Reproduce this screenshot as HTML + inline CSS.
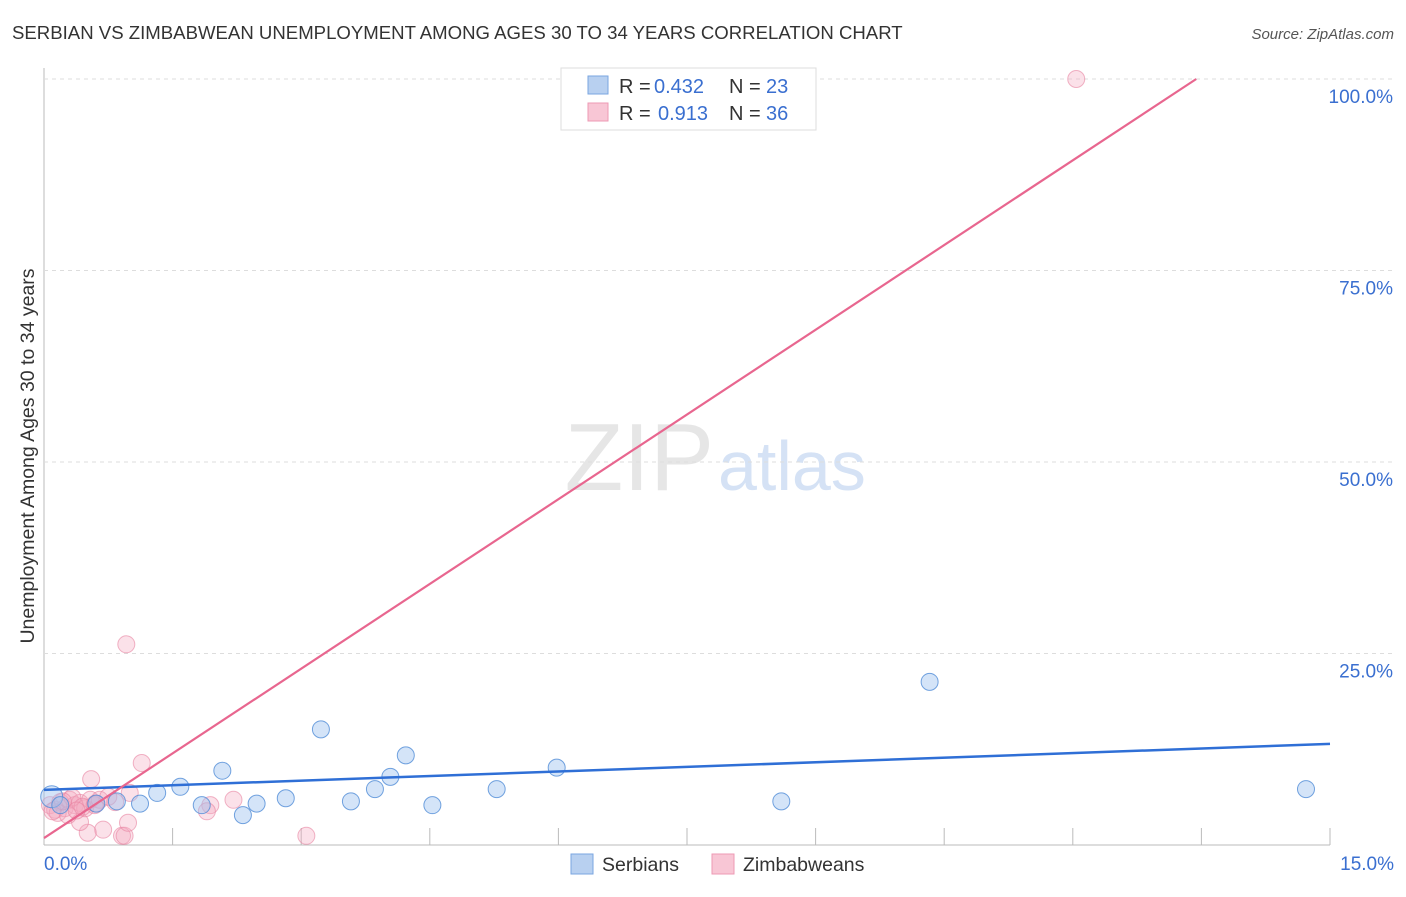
<!DOCTYPE html>
<html><head><meta charset="utf-8"><style>
body{margin:0;background:#fff;font-family:"Liberation Sans",sans-serif;}
svg text{font-family:"Liberation Sans",sans-serif;}
</style></head><body>
<svg id="c" width="1406" height="892" xmlns="http://www.w3.org/2000/svg">
<text x="12" y="39" font-size="18.6" fill="#333">SERBIAN VS ZIMBABWEAN UNEMPLOYMENT AMONG AGES 30 TO 34 YEARS CORRELATION CHART</text>
<text x="1394" y="39" font-size="15" fill="#555" text-anchor="end" font-style="italic">Source: ZipAtlas.com</text>
<text x="34" y="456" font-size="19.5" fill="#333" text-anchor="middle" transform="rotate(-90 34 456)">Unemployment Among Ages 30 to 34 years</text>
<text x="714" y="490" font-size="96" fill="#e6e6e6" text-anchor="end" font-family="Liberation Serif">ZIP</text>
<text x="718" y="490" font-size="70" fill="#d5e2f5">atlas</text>
<g id="grid"></g><g id="marks"></g>
<g>
<rect x="561" y="68" width="255" height="62" fill="#fff" stroke="#ddd"/>
<rect x="588" y="76" width="20" height="18" fill="#b8d0f0" stroke="#7aa6e0"/>
<text x="619" y="93" font-size="20" fill="#333">R = </text><text x="654" y="93" font-size="20" fill="#3a6fd0">0.432</text>
<text x="729" y="93" font-size="20" fill="#333">N = </text><text x="766" y="93" font-size="20" fill="#3a6fd0">23</text>
<rect x="588" y="103" width="20" height="18" fill="#f8c6d5" stroke="#ee9ab4"/>
<text x="619" y="120" font-size="20" fill="#333">R = </text><text x="658" y="120" font-size="20" fill="#3a6fd0">0.913</text>
<text x="729" y="120" font-size="20" fill="#333">N = </text><text x="766" y="120" font-size="20" fill="#3a6fd0">36</text>
</g>
<g>
<rect x="571" y="854" width="22" height="20" fill="#b8d0f0" stroke="#7aa6e0"/>
<text x="602" y="871" font-size="19.5" fill="#333">Serbians</text>
<rect x="712" y="854" width="22" height="20" fill="#f8c6d5" stroke="#ee9ab4"/>
<text x="743" y="871" font-size="19.5" fill="#333">Zimbabweans</text>
</g>
<text x="44" y="870" font-size="19" fill="#3a6fd0">0.0%</text>
<text x="1394" y="870" font-size="19" fill="#3a6fd0" text-anchor="end">15.0%</text>
</svg>
<script>
const yTicks=[25,50,75,100];
const yTickLabels=["25.0%","50.0%","75.0%","100.0%"];
const serbX=[0.09,0.19,0.61,0.85,1.12,1.32,1.59,1.84,2.08,2.32,2.48,2.82,3.23,3.58,3.86,4.04,4.22,4.53,5.28,5.98,8.60,10.33,14.72];
const serbY=[6.3,5.2,5.4,5.7,5.4,6.8,7.6,5.2,9.7,3.9,5.4,6.1,15.1,5.7,7.3,8.9,11.7,5.2,7.3,10.1,5.7,21.3,7.3];
const zimX=[12.04,0.96,1.14,0.55,1.0,1.94,2.21,3.06,0.91,0.94,0.98,0.69,0.51,0.42,0.07,0.13,0.19,0.24,0.30,0.36,0.42,0.48,0.54,0.59,0.65,0.83,0.16,0.28,0.10,0.33,0.45,0.60,0.75,1.90,0.22,0.38];
const zimY=[100,26.2,10.7,8.6,6.8,5.2,5.9,1.2,1.2,1.2,2.9,2.0,1.6,3.0,5.2,4.6,5.6,4.8,5.9,5.2,5.5,4.8,5.9,5.2,5.9,5.6,4.2,3.9,4.4,6.2,5.0,5.4,6.3,4.4,5.7,4.5];
const serbLine=[7.2,13.2];
const zimLine=[[0,0.9],[13.44,100]];
const X=v=>44+v*(1286/15), Y=v=>845-v*7.66;
const NS="http://www.w3.org/2000/svg";
const g=document.getElementById('grid'), m=document.getElementById('marks');
function el(t,a,p){const e=document.createElementNS(NS,t);for(const k in a)e.setAttribute(k,a[k]);p.appendChild(e);return e;}
const ax=el('line',{x1:44,y1:68,x2:44,y2:845,stroke:'#bbb'},g);


const bx=el('line',{x1:44,y1:845,x2:1330,y2:845,stroke:'#bbb'},g);


for(let i=1;i<=10;i++){const t=el('line',{x1:X(i*1.5),y1:828,x2:X(i*1.5),y2:845,stroke:'#bbb'},g);

}
yTicks.forEach((v,i)=>{const l=el('line',{x1:44,y1:Y(v),x2:1394,y2:Y(v),stroke:'#ddd','stroke-dasharray':'4,4'},g);


const t=el('text',{x:1393,y:Y(v)+24,'font-size':19,fill:'#3a6fd0','text-anchor':'end'},g);t.textContent=yTickLabels[i];

});
zimX.forEach((x,i)=>{const c=el('circle',{cx:X(x),cy:Y(zimY[i]),r:8.5,fill:'rgba(244,170,192,0.35)',stroke:'rgba(232,130,160,0.6)'},m);

});
serbX.forEach((x,i)=>{const c=el('circle',{cx:X(x),cy:Y(serbY[i]),r:i==0?11:8.5,fill:'rgba(160,195,240,0.45)',stroke:'rgba(80,140,215,0.8)'},m);

});
const bl=el('line',{x1:X(0),y1:Y(serbLine[0]),x2:X(15),y2:Y(serbLine[1]),stroke:'#2f6fd6','stroke-width':2.5},m);


const pl=el('line',{x1:X(zimLine[0][0]),y1:Y(zimLine[0][1]),x2:X(zimLine[1][0]),y2:Y(zimLine[1][1]),stroke:'#e8668f','stroke-width':2.2},m);


</script>
</body></html>
